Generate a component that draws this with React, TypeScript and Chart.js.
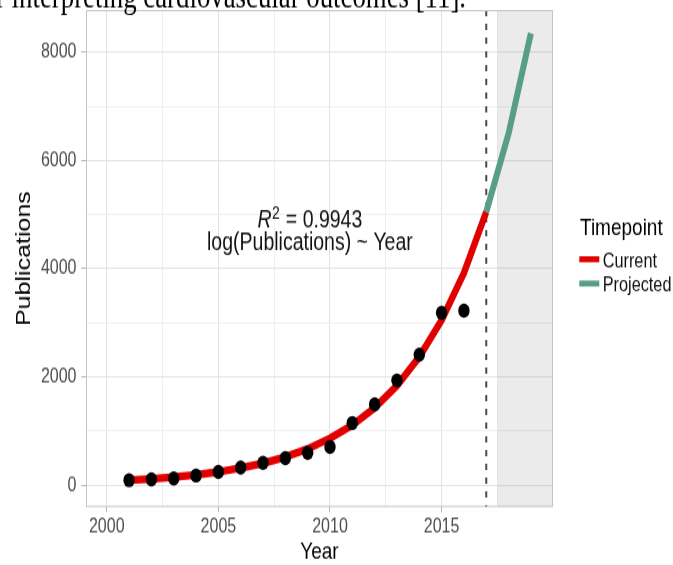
import { useEffect, useRef } from 'react';
import { Chart, registerables } from 'chart.js';

Chart.register(...registerables);

// ---------- data ----------
const years = [2001, 2002, 2003, 2004, 2005, 2006, 2007, 2008, 2009, 2010, 2011, 2012, 2013, 2014, 2015, 2016];
const publications = [92, 105, 123, 178, 245, 326, 411, 498, 596, 706, 1149, 1493, 1935, 2409, 3183, 3226];

const currentYears = [2001, 2002, 2003, 2004, 2005, 2006, 2007, 2008, 2009, 2010, 2011, 2012, 2013, 2014, 2015, 2016, 2017];
const currentFit = [90, 115, 150, 190, 245, 315, 405, 520, 670, 865, 1110, 1430, 1840, 2370, 3050, 3920, 5050];

const projectedYears = [2017, 2018, 2019];
const projectedFit = [5050, 6500, 8350];

const xMajorTicks = [2000, 2005, 2010, 2015];
const xMinorTicks = [2002.5, 2007.5, 2012.5, 2017.5];
const yMajorTicks = [0, 2000, 4000, 6000, 8000];
const yMinorTicks = [1000, 3000, 5000, 7000];

const cutoffYear = 2017;
const projectionStart = 2017.5;
const legendTitle = 'Timepoint';
const legendLabels = ['Current', 'Projected'];
const annotationR2 = '0.9943';
const annotationFormula = 'log(Publications) ~ Year';
const annotationX = 2009.1;
const annotationY1 = 4755;
const annotationY2 = 4345;
const topText = 'r interpreting cardiovascular outcomes [11].';

// ---------- styles ----------
const RED = '#e00000';
const GREEN = '#589e85';
const FONT = '"Liberation Sans", Arial, sans-serif';
const W = 673;
const H = 452;
const STRETCH = 565 / 452;

const overlayPlugin = {
  id: 'overlay',
  beforeDatasetsDraw(chart: any) {
    const { ctx, chartArea: a, scales } = chart;
    const x = scales.x;
    ctx.save();
    const x0 = x.getPixelForValue(projectionStart);
    ctx.fillStyle = 'rgba(0,0,0,0.078)';
    ctx.fillRect(x0, a.top, a.right - x0, a.bottom - a.top);
    const xc = x.getPixelForValue(cutoffYear);
    ctx.strokeStyle = '#4a4a4a';
    ctx.lineWidth = 2;
    ctx.setLineDash([5, 6]);
    ctx.beginPath();
    ctx.moveTo(xc, a.top);
    ctx.lineTo(xc, a.bottom);
    ctx.stroke();
    ctx.restore();
  },
  afterDraw(chart: any) {
    const { ctx, chartArea: a, scales } = chart;
    const x = scales.x;
    const y = scales.y;
    ctx.save();
    // panel border
    ctx.strokeStyle = '#c4c4c4';
    ctx.lineWidth = 1;
    ctx.strokeRect(a.left + 0.5, a.top + 0.5, a.right - a.left - 1, a.bottom - a.top - 1);

    // annotation line 1: R^2 = 0.9943
    ctx.fillStyle = '#111';
    ctx.textBaseline = 'alphabetic';
    ctx.textAlign = 'left';
    const cx = x.getPixelForValue(annotationX);
    const b1 = y.getPixelForValue(annotationY1);
    const b2 = y.getPixelForValue(annotationY2);
    const mainFont = `19.5px ${FONT}`;
    const italFont = `italic 19.5px ${FONT}`;
    const supFont = `14px ${FONT}`;
    ctx.font = italFont;
    const wR = ctx.measureText('R').width;
    ctx.font = supFont;
    const wS = ctx.measureText('2').width;
    ctx.font = mainFont;
    const rest = ' = ' + annotationR2;
    const wRest = ctx.measureText(rest).width;
    const total = wR + wS + 1 + wRest;
    let px = cx - total / 2;
    ctx.font = italFont;
    ctx.fillText('R', px, b1);
    px += wR + 0.5;
    ctx.font = supFont;
    ctx.fillText('2', px, b1 - 7);
    px += wS + 0.5;
    ctx.font = mainFont;
    ctx.fillText(rest, px, b1);
    // annotation line 2
    ctx.textAlign = 'center';
    ctx.fillText(annotationFormula, cx, b2);

    // legend
    ctx.textAlign = 'left';
    ctx.fillStyle = '#000';
    ctx.font = `19px ${FONT}`;
    ctx.fillText(legendTitle, 580, 188);
    const colors = [RED, GREEN];
    legendLabels.forEach((lab, i) => {
      const ky = 207.4 + i * 19.4;
      ctx.strokeStyle = colors[i];
      ctx.lineWidth = 4.8;
      ctx.beginPath();
      ctx.moveTo(579.3, ky);
      ctx.lineTo(599.3, ky);
      ctx.stroke();
      ctx.fillStyle = '#111';
      ctx.font = `16.3px ${FONT}`;
      ctx.fillText(lab, 602.7, ky + 6.2);
    });

    // clipped document text above the figure
    ctx.fillStyle = '#000';
    ctx.font = `26.8px "Liberation Serif", "Times New Roman", serif`;
    ctx.fillText(topText, -4, 5.6);
    ctx.restore();
  },
};

const isIn = (arr: number[], v: any) => arr.some((t) => Math.abs(t - v) < 1e-6);

export default function App() {
  const ref = useRef<HTMLCanvasElement>(null);

  useEffect(() => {
    const canvas = ref.current;
    if (!canvas) return;
    const chart = new Chart(canvas, {
      type: 'line',
      data: {
        datasets: [
          {
            type: 'scatter',
            label: 'Observed',
            data: years.map((yr, i) => ({ x: yr, y: publications[i] })),
            pointRadius: 5.7,
            pointBackgroundColor: '#000',
            pointBorderWidth: 0,
            showLine: false,
          } as any,
          {
            label: legendLabels[1],
            data: projectedYears.map((yr, i) => ({ x: yr, y: projectedFit[i] })),
            borderColor: GREEN,
            borderWidth: 6,
            pointRadius: 0,
            tension: 0,
            borderJoinStyle: 'round',
            fill: false,
          },
          {
            label: legendLabels[0],
            data: currentYears.map((yr, i) => ({ x: yr, y: currentFit[i] })),
            borderColor: RED,
            borderWidth: 6.3,
            pointRadius: 0,
            tension: 0,
            borderJoinStyle: 'round',
            fill: false,
          },
        ],
      },
      options: {
        animation: false,
        responsive: false,
        maintainAspectRatio: false,
        layout: { padding: { left: 0, right: 120, top: 8, bottom: 0 } },
        plugins: {
          legend: { display: false },
          tooltip: { enabled: false },
        },
        scales: {
          x: {
            type: 'linear',
            min: 1999.07,
            max: 2019.99,
            afterBuildTicks: (s: any) => {
              s.ticks = [...xMajorTicks, ...xMinorTicks].sort((p, q) => p - q).map((v) => ({ value: v }));
            },
            afterFit: (s: any) => {
              s.height = H - 405.6;
              s.paddingLeft = 0;
              s.paddingRight = 0;
              s.paddingTop = 0;
              s.paddingBottom = 0;
            },
            border: { display: false },
            grid: {
              color: (c: any) => (isIn(xMajorTicks, c.tick?.value) ? '#e2e2e2' : '#efefef'),
              tickColor: (c: any) => (isIn(xMajorTicks, c.tick?.value) ? '#b3b3b3' : 'rgba(0,0,0,0)'),
              lineWidth: 1,
              tickLength: 3.8,
            },
            ticks: {
              autoSkip: false,
              maxRotation: 0,
              padding: 2.3,
              color: '#4d4d4d',
              font: { family: FONT, size: 16 },
              callback: (v: any) => (isIn(xMajorTicks, v) ? String(v) : ''),
            },
            title: {
              display: true,
              text: 'Year',
              color: '#000',
              font: { family: FONT, size: 19, lineHeight: 1 },
              padding: { top: 0, bottom: 0.5 },
            },
          },
          y: {
            type: 'linear',
            min: -404,
            max: 8780,
            afterBuildTicks: (s: any) => {
              s.ticks = [...yMajorTicks, ...yMinorTicks].sort((p, q) => p - q).map((v) => ({ value: v }));
            },
            afterFit: (s: any) => {
              s.width = 86;
              s.paddingLeft = 0;
              s.paddingRight = 0;
              s.paddingTop = 0;
              s.paddingBottom = 0;
            },
            border: { display: false },
            grid: {
              color: (c: any) => (isIn(yMajorTicks, c.tick?.value) ? '#e2e2e2' : '#efefef'),
              tickColor: (c: any) => (isIn(yMajorTicks, c.tick?.value) ? '#b3b3b3' : 'rgba(0,0,0,0)'),
              lineWidth: 1,
              tickLength: 4.75,
            },
            ticks: {
              autoSkip: false,
              padding: 4.75,
              color: '#4d4d4d',
              font: { family: FONT, size: 16 },
              callback: (v: any) => (isIn(yMajorTicks, v) ? String(v) : ''),
            },
            title: {
              display: true,
              text: 'Publications',
              color: '#000',
              font: { family: FONT, size: 20, lineHeight: 1 },
              padding: { top: 14.5, bottom: 0 },
            },
          },
        },
      },
      plugins: [overlayPlugin],
    });
    return () => chart.destroy();
  }, []);

  return (
    <div style={{ position: 'fixed', left: 0, top: 0, width: W, height: 565, overflow: 'hidden', background: '#fff' }}>
      <div
        style={{
          position: 'absolute',
          left: 0,
          top: 0,
          width: W,
          height: H,
          transform: `scaleY(${STRETCH})`,
          transformOrigin: '0 0',
        }}
      >
        <canvas ref={ref} width={W} height={H} style={{ width: W, height: H, display: 'block' }} />
      </div>
    </div>
  );
}
